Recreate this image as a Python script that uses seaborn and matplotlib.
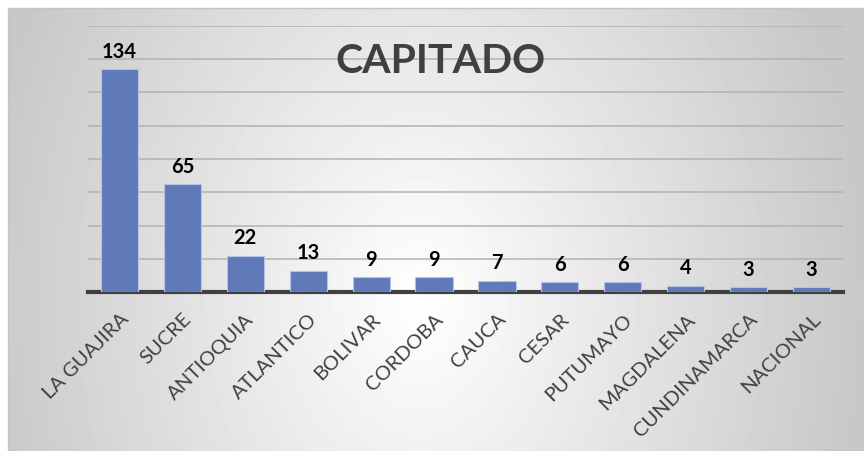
import numpy as np
import pandas as pd
import seaborn as sns
import matplotlib.pyplot as plt

departamentos = ['LA GUAJIRA', 'SUCRE', 'ANTIOQUIA', 'ATLANTICO', 'BOLIVAR', 'CORDOBA',
                 'CAUCA', 'CESAR', 'PUTUMAYO', 'MAGDALENA', 'CUNDINAMARCA', 'NACIONAL']
casos = [134, 65, 22, 13, 9, 9, 7, 6, 6, 4, 3, 3]

df = pd.DataFrame({'departamento': departamentos, 'casos': casos})

sns.set_style('white')
plt.rcParams['font.family'] = ['Lato', 'DejaVu Sans']

fig = plt.figure(figsize=(8.64, 4.52), dpi=100)

# gray background with a light centre, like the office chart style
bg = fig.add_axes([8 / 864, 0, 1 - 8 / 864, (452 - 9) / 452], zorder=0)
W, H = 856, 443
xx, yy = np.meshgrid(np.arange(W) + 8, np.arange(H) + 9)
r = np.sqrt(((xx - 420) / 440) ** 2 + ((yy - 300) / 600) ** 2)
shade = np.clip(255 - 55 * r, 200, 255) / 255
bg.imshow(shade, cmap='gray', vmin=0, vmax=1, aspect='auto', interpolation='bilinear')
bg.set_axis_off()
fig.add_artist(plt.Line2D([8 / 864, 1], [1 - 9 / 452, 1 - 9 / 452], color='#c4c4c4', lw=1))
fig.add_artist(plt.Line2D([8 / 864, 8 / 864], [0, 1 - 9 / 452], color='#c4c4c4', lw=1))

ax = fig.add_axes([88 / 864, (452 - 293.3) / 452, (843 - 88) / 864, (293.3 - 26.7) / 452], zorder=1)
ax.patch.set_alpha(0)

sns.barplot(data=df, x='departamento', y='casos', color='#6079b8', width=0.59,
            edgecolor='#b4c3e6', linewidth=0.8, saturation=1, ax=ax, zorder=3)

ax.set_ylim(0, 160)
ax.set_xlim(-0.5, len(departamentos) - 0.5)
ax.set_yticks(np.arange(20, 161, 20))
ax.yaxis.grid(True, color='#b2b2b2', linewidth=1.1, zorder=0)
ax.set_axisbelow(True)
ax.tick_params(axis='y', left=False, labelleft=False)
ax.tick_params(axis='x', bottom=False, pad=9)
for s in ['top', 'right', 'left']:
    ax.spines[s].set_visible(False)
ax.spines['bottom'].set_color('#404040')
ax.spines['bottom'].set_linewidth(3)
ax.set_xlabel('')
ax.set_ylabel('')

ax.set_xticks(range(len(departamentos)))
ax.set_xticklabels(departamentos, rotation=45, ha='right', rotation_mode='anchor',
                   fontsize=14.5, color='#404040')

ax.bar_label(ax.containers[0], fontsize=14.5, fontweight='bold', color='black', padding=6)

fig.text(0.51, 0.864, 'CAPITADO', ha='center', va='center', fontsize=29.5,
         fontweight='bold', color='#404040', zorder=5)

fig.savefig('out.png', dpi=100)
